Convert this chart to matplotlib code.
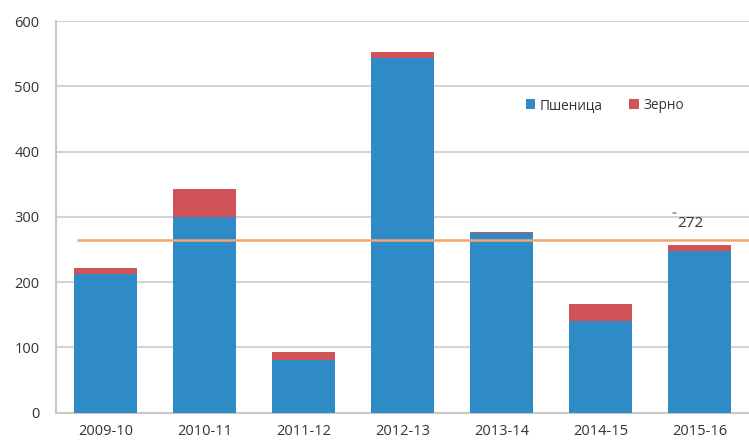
import matplotlib.pyplot as plt
import numpy as np

seasons = ["2009-10", "2010-11", "2011-12", "2012-13", "2013-14", "2014-15", "2015-16"]
wheat = [212, 300, 81, 544, 275, 141, 248]
grain = [10, 42, 11, 8, 2, 25, 9]
avg_line = 265
avg_label = "272"

plt.rcParams['font.family'] = ['Open Sans', 'DejaVu Sans']

fig = plt.figure(figsize=(7.49, 4.43), dpi=100)
ax = fig.add_axes([0.0748, 0.0688, 0.9252, 0.8837])

x = np.arange(len(seasons))
ax.bar(x, wheat, width=0.64, color="#2E8BC6", label="Пшеница", zorder=3)
ax.bar(x, grain, width=0.64, bottom=wheat, color="#D05457", label="Зерно", zorder=3)

ax.hlines(avg_line, -0.29, 6.5, color="#F2A46E", lw=1.8, zorder=4)
ax.text(5.72, 297, "˜", fontsize=8, color="#404040", ha="left", va="center")
ax.text(5.78, 290, avg_label, fontsize=11, color="#333333", ha="left", va="center")

ax.set_xlim(-0.5, 6.5)
ax.set_ylim(0, 600)
ax.set_yticks(range(0, 601, 100))
ax.set_xticks(x)
ax.set_xticklabels(seasons)
ax.tick_params(axis="both", length=0, labelsize=10.5, colors="#333333")
ax.tick_params(axis="y", pad=12)
ax.tick_params(axis="x", pad=8)
ax.grid(axis="y", color="#D4D4D4", lw=1.5, zorder=0)
for s in ["top", "right"]:
    ax.spines[s].set_visible(False)
ax.spines["left"].set_color("#C8C8C8")
ax.spines["left"].set_linewidth(1.5)
ax.spines["bottom"].set_color("#C8C8C8")
ax.spines["bottom"].set_linewidth(1.5)

ax.legend(loc="center left", bbox_to_anchor=(0.66, 0.785), ncol=2, frameon=False,
          fontsize=9.8, handlelength=0.7, handleheight=0.7, handletextpad=0.3,
          columnspacing=2.0, labelcolor="#333333")

fig.savefig("out.png", dpi=100)
